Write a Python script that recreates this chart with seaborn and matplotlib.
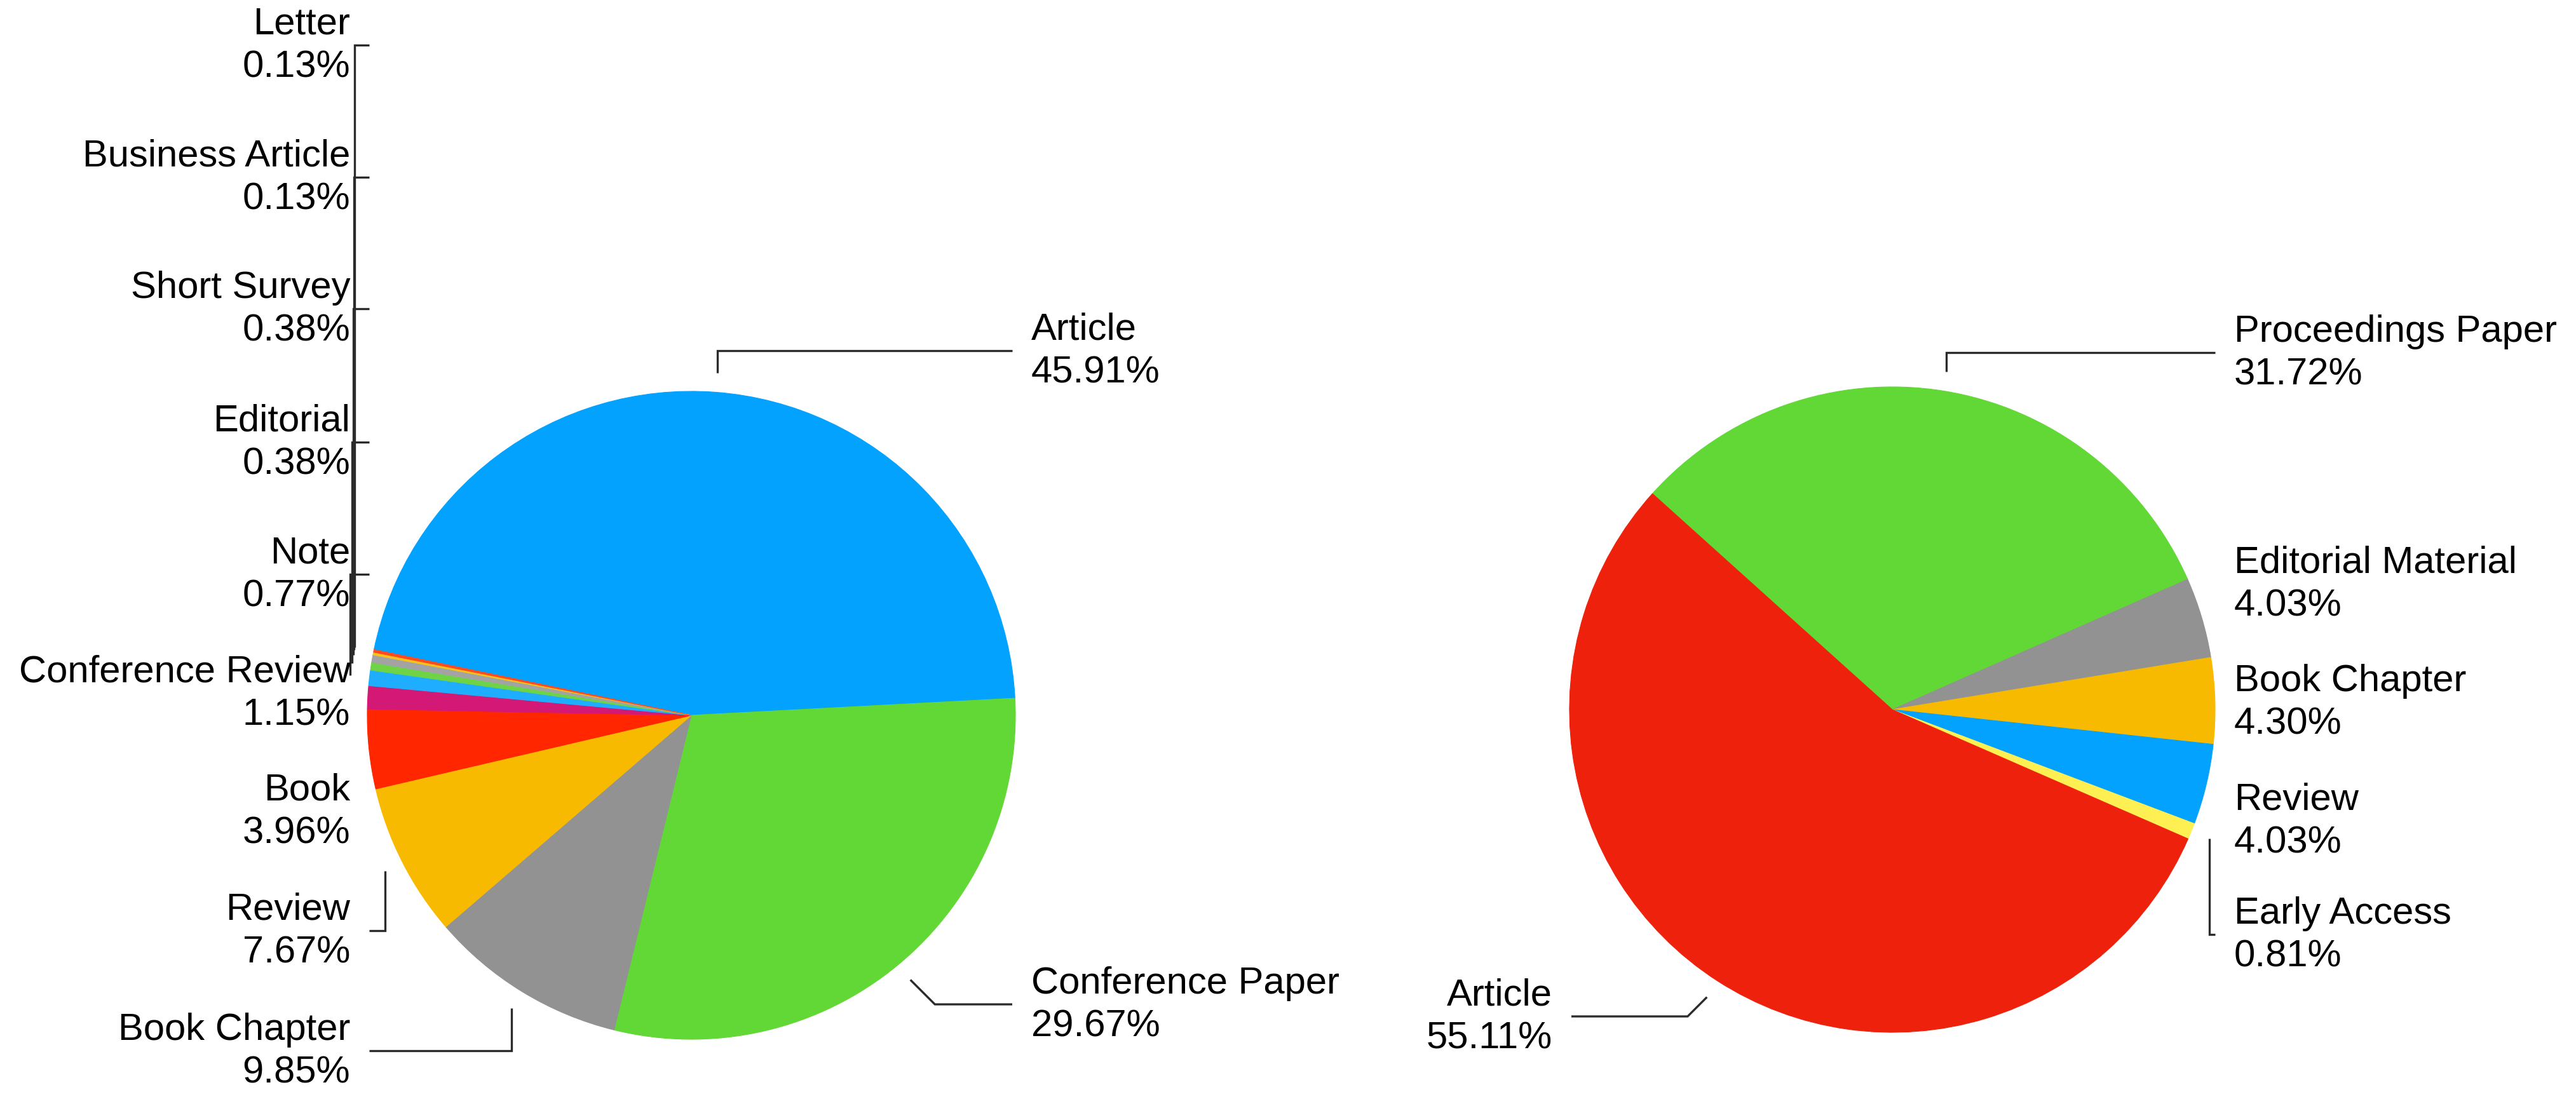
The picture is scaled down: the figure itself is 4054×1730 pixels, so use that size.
import numpy as np
import matplotlib.pyplot as plt
import seaborn as sns

# document types, share in percent
left_types = ["Article", "Conference Paper", "Book Chapter", "Review", "Book",
              "Conference Review", "Note", "Editorial", "Short Survey",
              "Business Article", "Letter"]
left_share = [45.91, 29.67, 9.85, 7.67, 3.96, 1.15, 0.77, 0.38, 0.38, 0.13, 0.13]
left_colors = ["#03A2FF", "#62D836", "#929292", "#F8BA00", "#FF2600",
               "#D31876", "#1FAEFF", "#6ED446", "#A3A3A3", "#F9C31C", "#FF4A1E"]

right_types = ["Proceedings Paper", "Editorial Material", "Book Chapter",
               "Review", "Early Access", "Article"]
right_share = [31.72, 4.03, 4.30, 4.03, 0.81, 55.11]
right_colors = ["#62D836", "#929292", "#F8BA00", "#03A2FF", "#FEF052", "#EE220C"]

# label layout in image pixels: (text x, text centre y from top, alignment, leader style)
left_layout = [
    (1623, 553, "left", "v"),
    (1623, 1582, "left", "d"),
    (551, 1655, "right", "v"),
    (551, 1466, "right", "v"),
    (551, 1278, "right", None),
    (551, 1092, "right", None),
    (551, 905, "right", "v"),
    (551, 697, "right", "v"),
    (551, 487, "right", "v"),
    (551, 280, "right", "v"),
    (551, 72, "right", "v"),
]
right_layout = [
    (3516, 556, "left", "v"),
    (3516, 920, "left", None),
    (3516, 1106, "left", None),
    (3516, 1293, "left", None),
    (3516, 1472, "left", "v"),
    (2443, 1601, "right", "d"),
]

W, H = 4054, 1731

sns.set_theme(style="white")
plt.rcParams["font.family"] = ["Liberation Sans", "DejaVu Sans"]

fig = plt.figure(figsize=(W / 100, H / 100), dpi=100)
ax = fig.add_axes([0, 0, 1, 1])


def draw_pie(types, share, colors, layout, center, radius, start):
    wedges, _ = ax.pie(share, colors=colors, startangle=start, counterclock=False,
                       center=center, radius=radius, frame=True)
    for w in wedges:
        w.set_edgecolor(w.get_facecolor())
        w.set_linewidth(0.8)

    for w, name, val, (tx, ty, ha, style) in zip(wedges, types, share, layout):
        ly = H - ty
        ax.text(tx, ly, f"{name}\n{val:.2f}%", ha=ha, va="center",
                multialignment=ha, fontsize=43, linespacing=1.3, color="black")
        if style is None:
            continue
        m = np.deg2rad((w.theta1 + w.theta2) / 2)
        px = center[0] + 1.06 * radius * np.cos(m)
        py = center[1] + 1.06 * radius * np.sin(m)
        if style == "v":
            ex = px
        else:
            ex = px + np.sign(np.cos(m)) * abs(ly - py)
        end_x = tx + 30 if ha == "right" else tx - 30
        ax.plot([px, ex, end_x], [py, ly, ly], color="#2b2b2b", lw=2.4,
                solid_capstyle="butt", solid_joinstyle="miter")


draw_pie(left_types, left_share, left_colors, left_layout,
         (1088, H - 1127), 510, 168.3)
draw_pie(right_types, right_share, right_colors, right_layout,
         (2978, H - 1118), 508, 138.0)

ax.set_xlim(0, W)
ax.set_ylim(0, H)
ax.set_aspect("equal")
ax.axis("off")

fig.savefig("out.png", dpi=100, facecolor="white")
